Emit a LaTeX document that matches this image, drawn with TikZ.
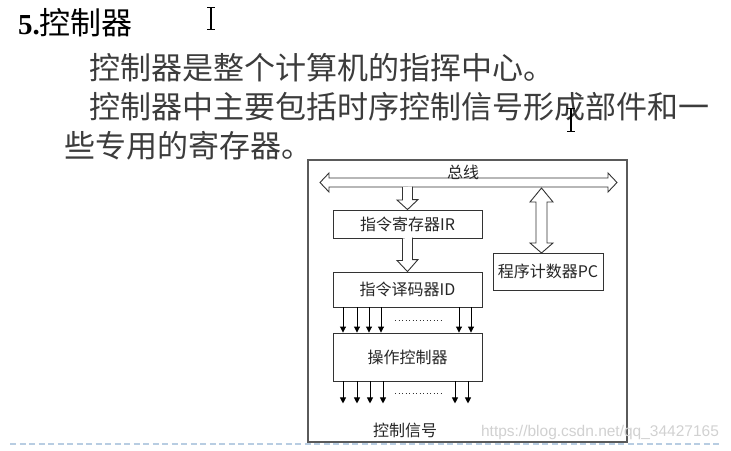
\documentclass[tikz,border=0pt]{standalone}
\usepackage{fontspec}
\setmainfont{Liberation Serif}
\newfontfamily\cjk{Noto Sans CJK SC}
\newfontfamily\wmfont{Liberation Sans}
\usetikzlibrary{arrows.meta,calc}
\definecolor{bodytxt}{HTML}{3C3C3C}
\definecolor{linegray}{HTML}{333333}
\definecolor{framegray}{HTML}{5A5A5A}
\definecolor{dashblue}{HTML}{B8CDE2}
\tikzset{
  bigtext/.style={anchor=west,inner sep=0pt,text=bodytxt,font=\cjk\fontsize{31}{36}\selectfont},
  boxnode/.style={draw=linegray,line width=0.9pt,fill=white,inner sep=0pt,text=black!85,font=\cjk\fontsize{16}{19}\selectfont},
  hollow/.style={draw=linegray,line width=0.9pt,fill=white,line join=miter},
  sig/.style={draw=black,line width=0.9pt,-{Triangle[length=6pt,width=6pt]}},
  dotrow/.style={draw=linegray,line width=0.9pt,dash pattern=on 0.9pt off 2.6pt},
  smalllabel/.style={inner sep=0pt,text=black!85,font=\cjk\fontsize{16}{19}\selectfont},
  beam/.style={draw=black,line width=1.4pt}
}
\begin{document}
\begin{tikzpicture}[x=1pt,y=-1pt]
\useasboundingbox (0,0) rectangle (731,450);
% page texts
\node[anchor=west,inner sep=0pt,text=black] (title) at (18,23)
  {\fontsize{29}{32}\selectfont\bfseries 5.\cjk\mdseries\fontsize{31}{34}\selectfont 控制器};
\node[bigtext] (l1) at (89,68) {控制器是整个计算机的指挥中心。};
\node[bigtext] (l2) at (89,107) {控制器中主要包括时序控制信号形成部件和一};
\node[bigtext] (l3) at (64,146) {些专用的寄存器。};
% text cursors
\draw[beam] (211,8) -- (211,29);
\draw[black,line width=1pt] (207,7.5) -- (215,7.5) (207,29.5) -- (215,29.5);
\draw[beam] (571,109) -- (571,131);
\draw[black,line width=1pt] (567,108.5) -- (575,108.5) (567,131.5) -- (575,131.5);
% dashed slide line
\draw[dashblue,line width=1.2pt,dash pattern=on 6pt off 3.5pt] (10,444) -- (722,444);
% frame
\node[draw=framegray,line width=1.4pt,fill=white,minimum width=319pt,minimum height=282pt,inner sep=0pt] (frame) at (467.5,301) {};
% watermark
\node[inner sep=0pt,text=black!18,font=\wmfont\fontsize{15.5}{18}\selectfont] (wm) at (600,432) {https://blog.csdn.net/qq\_34427165};
% boxes
\node[boxnode,minimum width=149pt,minimum height=28pt] (ir) at (407.5,224) {指令寄存器IR};
\node[boxnode,minimum width=149pt,minimum height=35pt] (id) at (407.5,289.5) {指令译码器ID};
\node[boxnode,minimum width=149pt,minimum height=48pt] (op) at (407.5,357) {操作控制器};
\node[boxnode,minimum width=110pt,minimum height=37pt] (pc) at (548,271.5) {程序计数器PC};
% bus
\coordinate (busL) at (320,182.5);
\coordinate (busR) at (617,182.5);
\draw[hollow] (busL) -- ++(9,-9.5) -- ++(0,5) -- ($(busR)+(-9,-4.5)$) -- ++(0,-5) -- (busR)
  -- ++(-9,9.5) -- ++(0,-5) -- ($(busL)+(9,4.5)$) -- ++(0,5) -- cycle;
\node[smalllabel] (buslbl) at (463,172) {总线};
% hollow arrow bus -> IR
\coordinate (a1) at (407.5,187);
\draw[hollow] ($(a1)+(-5,0)$) -- ++(0,13) -- ++(-5.5,0) -- (ir.north) -- ++(10.5,-10) -- ++(-5.5,0) -- ++(0,-13);
% hollow arrow IR -> ID
\draw[hollow] ($(ir.south)+(-5,0)$) -- ++(0,22) -- ++(-5.5,0) -- (id.north) -- ++(10.5,-12) -- ++(-5.5,0) -- ++(0,-22);
% double hollow arrow bus <-> PC
\coordinate (pcTop) at (541.5,188);
\coordinate (pcBot) at (541.5,253);
\draw[hollow] (pcTop) -- ++(11.5,14) -- ++(-6,0) -- ($(pcBot)+(5.5,-10)$) -- ++(6,0) -- (pcBot)
  -- ++(-11.5,-10) -- ++(6,0) -- ($(pcTop)+(-5.5,14)$) -- ++(-6,0) -- cycle;
% signals ID -> OP
\foreach \x in {343,357,369,381,459,471}{
  \coordinate (t) at (\x,0);
  \draw[sig] (id.south -| t) -- (op.north -| t);
}
\draw[dotrow] (395,320) -- (443,320);
% control signals out
\foreach \x in {343,357,370,383,455,468}{
  \coordinate (t) at (\x,0);
  \draw[sig] (op.south -| t) -- ++(0,22);
}
\draw[dotrow] (395,393) -- (443,393);
\node[smalllabel] (ctl) at (405,430) {控制信号};
\end{tikzpicture}
\end{document}
